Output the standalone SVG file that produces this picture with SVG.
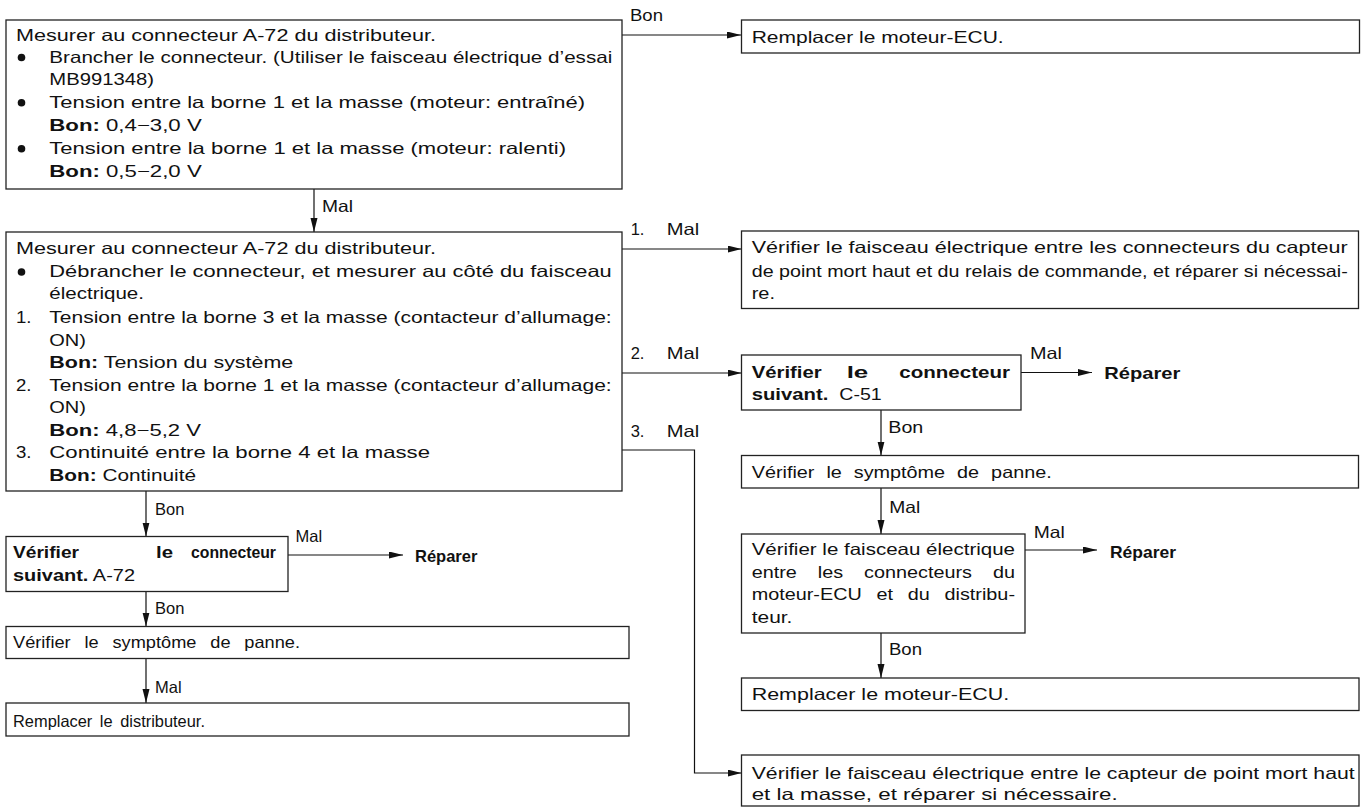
<svg xmlns="http://www.w3.org/2000/svg" width="1367" height="809" viewBox="0 0 1367 809">
<style>
text { font-family: "Liberation Sans", Arial, Helvetica, sans-serif; font-size: 16.5px; fill: #111; }
.b { font-weight: bold; }
.box { fill: #fff; stroke: #222; stroke-width: 1.3; }
.conn { fill: none; stroke: #111; stroke-width: 1.2; }
.bul { fill: #111; }
</style>
<defs>
<marker id="ah" markerUnits="userSpaceOnUse" markerWidth="15" markerHeight="8" refX="14" refY="3.5" orient="auto">
<path d="M0,0 L14,3.5 L0,7 z" fill="#111"/>
</marker>
</defs>
<rect width="1367" height="809" fill="#fff"/>

<g id="connectors">
<path class="conn" d="M622,35 H741" marker-end="url(#ah)"/>
<path class="conn" d="M314,189 V232" marker-end="url(#ah)"/>
<path class="conn" d="M622,249 H741.5" marker-end="url(#ah)"/>
<path class="conn" d="M622,373 H741.5" marker-end="url(#ah)"/>
<path class="conn" d="M622,450 H694.5 V773 H741.5" marker-end="url(#ah)"/>
<path class="conn" d="M1021,372.5 H1092" marker-end="url(#ah)"/>
<path class="conn" d="M881,410 V455.5" marker-end="url(#ah)"/>
<path class="conn" d="M881,488 V534" marker-end="url(#ah)"/>
<path class="conn" d="M1025,550 H1097" marker-end="url(#ah)"/>
<path class="conn" d="M881,633 V678" marker-end="url(#ah)"/>
<path class="conn" d="M146,491 V536.5" marker-end="url(#ah)"/>
<path class="conn" d="M288,555 H403" marker-end="url(#ah)"/>
<path class="conn" d="M146,591.5 V626.5" marker-end="url(#ah)"/>
<path class="conn" d="M146,658.5 V703" marker-end="url(#ah)"/>
<text x="630" y="20.5" textLength="33" lengthAdjust="spacingAndGlyphs">Bon</text>
<text x="322" y="211.7" textLength="31" lengthAdjust="spacingAndGlyphs">Mal</text>
<text x="630.7" y="235">1.</text><text x="666.7" y="235" textLength="32.5" lengthAdjust="spacingAndGlyphs">Mal</text>
<text x="630.7" y="359.3">2.</text><text x="666.7" y="359.3" textLength="32.5" lengthAdjust="spacingAndGlyphs">Mal</text>
<text x="630.7" y="437.3">3.</text><text x="666.7" y="437.3" textLength="32.5" lengthAdjust="spacingAndGlyphs">Mal</text>
<text x="1030" y="359.3" textLength="32" lengthAdjust="spacingAndGlyphs">Mal</text>
<text class="b" x="1104.3" y="379" textLength="76" lengthAdjust="spacingAndGlyphs">Réparer</text>
<text x="888.3" y="433" textLength="35" lengthAdjust="spacingAndGlyphs">Bon</text>
<text x="889.3" y="513.3" textLength="31" lengthAdjust="spacingAndGlyphs">Mal</text>
<text x="1033.8" y="538" textLength="31" lengthAdjust="spacingAndGlyphs">Mal</text>
<text class="b" x="1110" y="557.5" textLength="66" lengthAdjust="spacingAndGlyphs">Réparer</text>
<text x="889" y="655" textLength="33" lengthAdjust="spacingAndGlyphs">Bon</text>
<text x="155" y="515">Bon</text>
<text x="295.5" y="541.7">Mal</text>
<text class="b" x="415" y="561.5">Réparer</text>
<text x="155" y="614">Bon</text>
<text x="155" y="693">Mal</text>
</g>

<g id="nodeA">
<rect class="box" x="6" y="20" width="616" height="169"/>
<text x="16" y="40.7" textLength="420" lengthAdjust="spacingAndGlyphs">Mesurer au connecteur A-72 du distributeur.</text>
<circle class="bul" cx="21.5" cy="57.5" r="3.8"/>
<text x="49.3" y="62.7" textLength="563" lengthAdjust="spacingAndGlyphs">Brancher le connecteur. (Utiliser le faisceau électrique d’essai</text>
<text x="49.3" y="85" textLength="104.7" lengthAdjust="spacingAndGlyphs">MB991348)</text>
<circle class="bul" cx="21.5" cy="102.8" r="3.8"/>
<text x="49.3" y="108" textLength="535.7" lengthAdjust="spacingAndGlyphs">Tension entre la borne 1 et la masse (moteur: entraîné)</text>
<text x="49.3" y="130.7" textLength="152.4" lengthAdjust="spacingAndGlyphs"><tspan class="b">Bon:</tspan> 0,4−3,0 V</text>
<circle class="bul" cx="21.5" cy="148.8" r="3.8"/>
<text x="49.3" y="154" textLength="516.7" lengthAdjust="spacingAndGlyphs">Tension entre la borne 1 et la masse (moteur: ralenti)</text>
<text x="49.3" y="176.7" textLength="152.4" lengthAdjust="spacingAndGlyphs"><tspan class="b">Bon:</tspan> 0,5−2,0 V</text>
</g>

<g id="nodeB">
<rect class="box" x="741.5" y="20" width="618" height="33"/>
<text x="751.7" y="43" textLength="252" lengthAdjust="spacingAndGlyphs">Remplacer le moteur-ECU.</text>
</g>

<g id="nodeC">
<rect class="box" x="6" y="232" width="616" height="259"/>
<text x="16" y="254" textLength="420" lengthAdjust="spacingAndGlyphs">Mesurer au connecteur A-72 du distributeur.</text>
<circle class="bul" cx="21.5" cy="272" r="3.8"/>
<text x="49.3" y="277.3" textLength="562.4" lengthAdjust="spacingAndGlyphs">Débrancher le connecteur, et mesurer au côté du faisceau</text>
<text x="49.3" y="299.3" textLength="94.7" lengthAdjust="spacingAndGlyphs">électrique.</text>
<text x="16" y="323.3" textLength="15.5" lengthAdjust="spacingAndGlyphs">1.</text>
<text x="49.3" y="323.3" textLength="562.4" lengthAdjust="spacingAndGlyphs">Tension entre la borne 3 et la masse (contacteur d’allumage:</text>
<text x="49.3" y="345.7" textLength="36.7" lengthAdjust="spacingAndGlyphs">ON)</text>
<text x="49.3" y="368.3" textLength="244" lengthAdjust="spacingAndGlyphs"><tspan class="b">Bon:</tspan> Tension du système</text>
<text x="16" y="390.7" textLength="15.5" lengthAdjust="spacingAndGlyphs">2.</text>
<text x="49.3" y="390.7" textLength="562.4" lengthAdjust="spacingAndGlyphs">Tension entre la borne 1 et la masse (contacteur d’allumage:</text>
<text x="49.3" y="413" textLength="36.7" lengthAdjust="spacingAndGlyphs">ON)</text>
<text x="49.3" y="436" textLength="151.7" lengthAdjust="spacingAndGlyphs"><tspan class="b">Bon:</tspan> 4,8−5,2 V</text>
<text x="16" y="458.3" textLength="15.5" lengthAdjust="spacingAndGlyphs">3.</text>
<text x="49.3" y="458.3" textLength="380.7" lengthAdjust="spacingAndGlyphs">Continuité entre la borne 4 et la masse</text>
<text x="49.3" y="481" textLength="146.7" lengthAdjust="spacingAndGlyphs"><tspan class="b">Bon:</tspan> Continuité</text>
</g>

<g id="nodeD">
<rect class="box" x="741.5" y="231" width="617" height="77.5"/>
<text x="751.7" y="253" textLength="596" lengthAdjust="spacingAndGlyphs">Vérifier le faisceau électrique entre les connecteurs du capteur</text>
<text x="751.7" y="276.7" textLength="596" lengthAdjust="spacingAndGlyphs">de point mort haut et du relais de commande, et réparer si nécessai-</text>
<text x="751.7" y="299" textLength="23.3" lengthAdjust="spacingAndGlyphs">re.</text>
</g>

<g id="nodeE">
<rect class="box" x="741.5" y="355" width="279.5" height="55"/>
<text class="b" x="751.7" y="378.3" textLength="70" lengthAdjust="spacingAndGlyphs">Vérifier</text>
<text class="b" x="846.7" y="378.3" textLength="21.6" lengthAdjust="spacingAndGlyphs">le</text>
<text class="b" x="899.3" y="378.3" textLength="110.7" lengthAdjust="spacingAndGlyphs">connecteur</text>
<text class="b" x="751.7" y="400" textLength="76.6" lengthAdjust="spacingAndGlyphs">suivant.</text>
<text x="839.3" y="400" textLength="42.4" lengthAdjust="spacingAndGlyphs">C-51</text>
</g>

<g id="nodeF">
<rect class="box" x="741.5" y="455.5" width="617" height="32.5"/>
<text x="751.7" y="478.3" word-spacing="5.4" textLength="300" lengthAdjust="spacingAndGlyphs">Vérifier le symptôme de panne.</text>
</g>

<g id="nodeG">
<rect class="box" x="741.5" y="534" width="283.5" height="99"/>
<text x="751.7" y="555" textLength="263.3" lengthAdjust="spacingAndGlyphs">Vérifier le faisceau électrique</text>
<text x="751.7" y="577.7" word-spacing="12.9" textLength="263.3" lengthAdjust="spacingAndGlyphs">entre les connecteurs du</text>
<text x="751.7" y="600.3" word-spacing="7.7" textLength="263.3" lengthAdjust="spacingAndGlyphs">moteur-ECU et du distribu-</text>
<text x="751.7" y="623" textLength="40.7" lengthAdjust="spacingAndGlyphs">teur.</text>
</g>

<g id="nodeH">
<rect class="box" x="741.5" y="678" width="617.5" height="32.5"/>
<text x="751.7" y="700" textLength="257.5" lengthAdjust="spacingAndGlyphs">Remplacer le moteur-ECU.</text>
</g>

<g id="nodeI">
<rect class="box" x="741.5" y="755" width="617.5" height="51"/>
<text x="751.7" y="778.5" textLength="603" lengthAdjust="spacingAndGlyphs">Vérifier le faisceau électrique entre le capteur de point mort haut</text>
<text x="751.7" y="800" textLength="366" lengthAdjust="spacingAndGlyphs">et la masse, et réparer si nécessaire.</text>
</g>

<g id="nodeJ">
<rect class="box" x="6" y="536.5" width="282" height="55"/>
<text class="b" x="13" y="558.3" textLength="66" lengthAdjust="spacingAndGlyphs">Vérifier</text>
<text class="b" x="156" y="558.3" textLength="17" lengthAdjust="spacingAndGlyphs">le</text>
<text class="b" x="191" y="558.3" textLength="85" lengthAdjust="spacingAndGlyphs">connecteur</text>
<text x="13" y="580.7" textLength="122" lengthAdjust="spacingAndGlyphs"><tspan class="b">suivant.</tspan> A-72</text>
</g>

<g id="nodeK">
<rect class="box" x="6" y="626.5" width="623" height="32"/>
<text x="13" y="648.3" word-spacing="8" textLength="287" lengthAdjust="spacingAndGlyphs">Vérifier le symptôme de panne.</text>
</g>

<g id="nodeL">
<rect class="box" x="6" y="703" width="623" height="33"/>
<text x="13" y="727.3" word-spacing="3" textLength="192" lengthAdjust="spacingAndGlyphs">Remplacer le distributeur.</text>
</g>
</svg>
